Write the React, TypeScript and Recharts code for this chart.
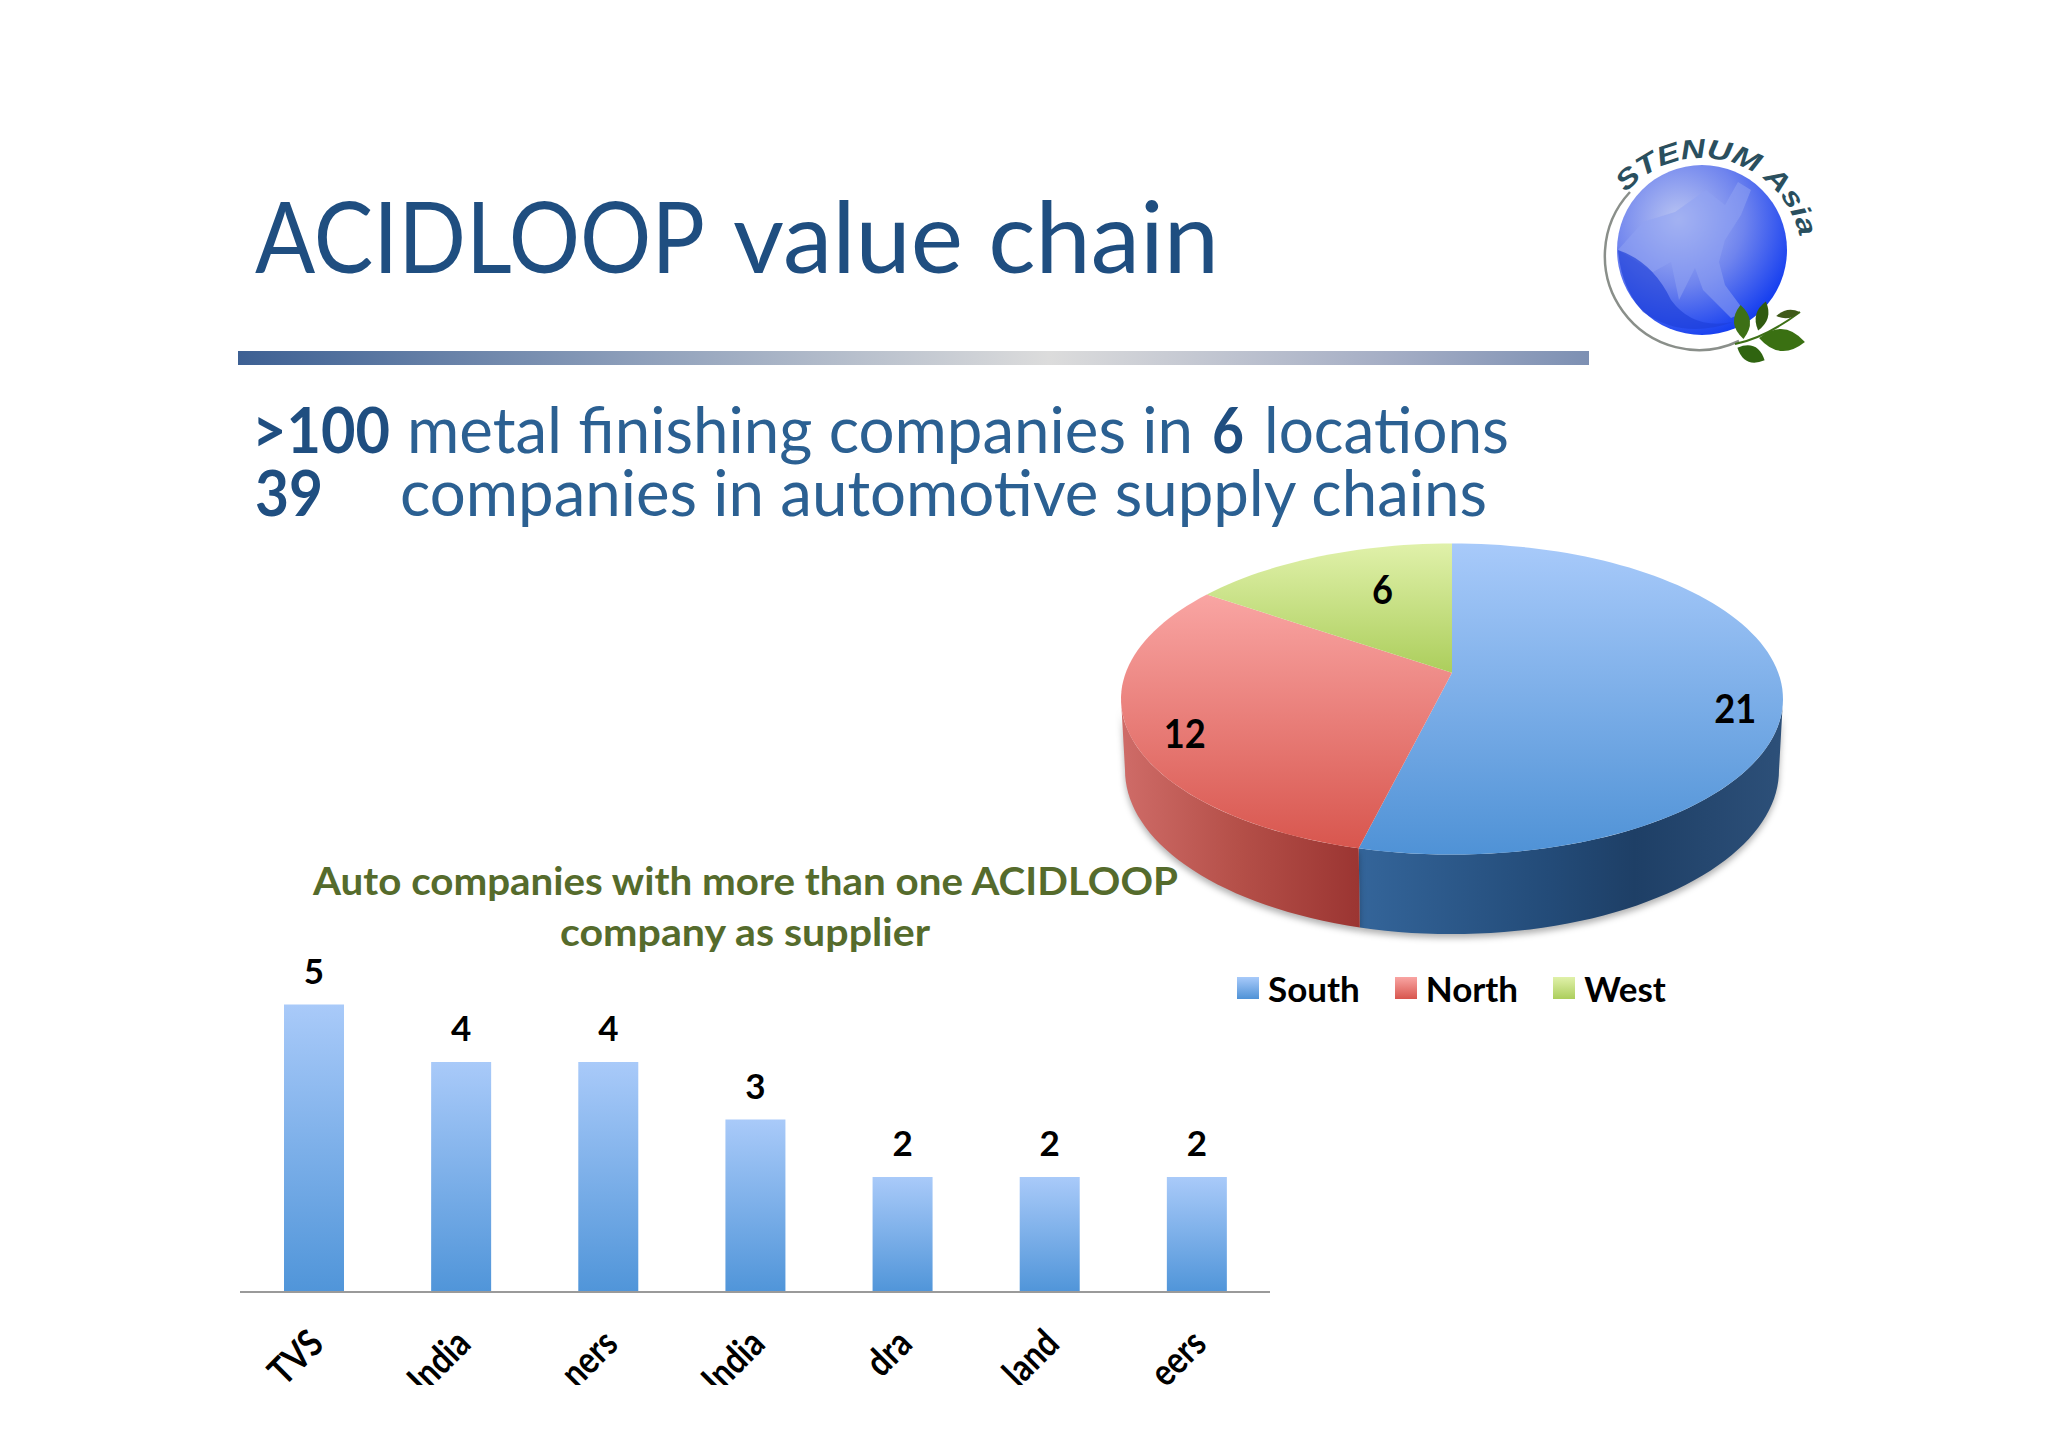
import { BarChart, Bar, XAxis, YAxis, LabelList, PieChart, Pie, Legend } from "recharts";

const barNames = ["TVS", "India", "ners", "India ", "dra", "land", "eers"];
const barValues = [5, 4, 4, 3, 2, 2, 2];
const regionNames = ["South", "North", "West"];
const regionValues = [21, 12, 6];

const regionFills = ["url(#topSouth)", "url(#topNorth)", "url(#topWest)"];
const wallFills = ["url(#wallSouth)", "url(#wallNorth)", "none"];
// small per-slice nudges for the pie numbers
const labelNudge = [
  { dx: 3, dy: 19 },
  { dx: 6, dy: 12 },
  { dx: 45, dy: 17 },
];

const barData = barNames.map((name, i) => ({ name, value: barValues[i] }));
const pieData = regionNames.map((name, i) => ({
  name,
  value: regionValues[i],
  fill: regionFills[i],
  wall: wallFills[i],
}));

const FONT = "Lato, Carlito, sans-serif";
const RAD = Math.PI / 180;
const SQUASH = 0.47;
const TILT = 0.168; // perspective: pie centre sits above the ellipse centre
const DEPTH = 71;

// angle on the pie -> point on the tilted disc
function project(deg: number, r: number, cx: number, cy: number, rx: number, ry: number) {
  const u = Math.cos(deg * RAD) * r;
  const v = Math.sin(deg * RAD) * r;
  const w = 1 + TILT * v;
  return {
    x: cx + (rx * Math.sqrt(1 - TILT * TILT) * u) / w,
    y: cy - (ry * (v + TILT)) / w,
  };
}

function arcPoints(a: number, b: number, cx: number, cy: number, rx: number, ry: number) {
  const n = Math.max(2, Math.ceil(Math.abs(a - b) / 2));
  const pts = [];
  for (let i = 0; i <= n; i++) {
    const p = project(a + ((b - a) * i) / n, 1, cx, cy, rx, ry);
    pts.push(`${p.x.toFixed(1)} ${p.y.toFixed(1)}`);
  }
  return pts;
}

function Slice(props: any) {
  const { cx, cy, outerRadius, startAngle, endAngle, fill, payload } = props;
  const rx = outerRadius;
  const ry = outerRadius * SQUASH;
  const apex = project(0, 0, cx, cy, rx, ry);
  const top = arcPoints(startAngle, endAngle, cx, cy, rx, ry);
  const edge = (Math.asin(TILT) * 180) / Math.PI;
  const from = Math.min(startAngle, -edge);
  const to = Math.max(endAngle, -180 + edge);
  let wall = null;
  if (from > to) {
    const upper = arcPoints(from, to, cx, cy, rx, ry);
    const lower = arcPoints(to, from, cx, cy + DEPTH, rx * 0.988, ry * 1.055);
    wall = (
      <path
        d={`M${upper.join("L")}L${lower.join("L")}Z`}
        fill={payload?.wall ?? props.wall}
        style={{ filter: "drop-shadow(0 4px 3px rgba(0,0,0,0.3))" }}
      />
    );
  }
  return (
    <g>
      {wall}
      <path d={`M${apex.x} ${apex.y}L${top.join("L")}Z`} fill={fill} />
    </g>
  );
}

function pieLabel(props: any) {
  const { cx, cy, midAngle, outerRadius, value, index } = props;
  const p = project(midAngle, 0.85, cx, cy, outerRadius, outerRadius * SQUASH);
  return (
    <text
      x={p.x + labelNudge[index].dx}
      y={p.y + labelNudge[index].dy}
      textAnchor="middle"
      dominantBaseline="central"
      fontFamily={FONT}
      fontWeight={700}
      fontSize={40}
      fill="#000"
      textLength={String(value).length * 21}
      lengthAdjust="spacingAndGlyphs"
    >
      {value}
    </text>
  );
}

function PieLegend({ payload }: any) {
  return (
    <div style={{ display: "flex", gap: 35, fontFamily: FONT, fontWeight: 700, fontSize: 35, color: "#000" }}>
      {(payload ?? []).map((entry: any) => (
        <div key={entry.value} style={{ display: "flex", alignItems: "center", gap: 9 }}>
          <svg width={22} height={22} style={{ display: "block" }}>
            <rect width={22} height={22} fill={entry.payload?.fill ?? entry.color} />
          </svg>
          <span style={{ lineHeight: "30px" }}>{entry.value}</span>
        </div>
      ))}
    </div>
  );
}

function RotatedTick({ x, y, payload }: any) {
  return (
    <text
      transform={`translate(${x + 12},${y + 46}) rotate(-45) scale(0.94,1.12)`}
      textAnchor="end"
      fontFamily={FONT}
      fontWeight={700}
      fontSize={34}
      fill="#000"
    >
      {payload.value.trim()}
    </text>
  );
}

function Gradient({ id, stops, horizontal }: { id: string; stops: [number, string][]; horizontal?: boolean }) {
  return (
    <linearGradient id={id} x1="0" y1="0" x2={horizontal ? "1" : "0"} y2={horizontal ? "0" : "1"}>
      {stops.map(([o, c]) => (
        <stop key={o} offset={o} stopColor={c} />
      ))}
    </linearGradient>
  );
}

function Leaf({ x, y, len, wide, rot, color }: { x: number; y: number; len: number; wide: number; rot: number; color: string }) {
  return (
    <path
      d={`M${-len} 0Q0 ${-wide * 2} ${len} 0Q0 ${wide * 2} ${-len} 0Z`}
      fill={color}
      transform={`translate(${x},${y}) rotate(${rot})`}
    />
  );
}

function Logo() {
  return (
    <g>
      <path d="M1630 192 A94 94 0 0 0 1739 341" fill="none" stroke="#8a8f8a" strokeWidth={2.5} />
      <circle cx={1702} cy={250} r={85} fill="url(#globe)" />
      <path
        d="M1706 190 L1725 205 L1738 182 L1751 190 L1741 215 L1725 240 L1719 262 L1725 285 L1745 312 L1731 318 L1703 290 L1695 268 L1679 300 L1671 262 L1653 272 L1618 250 L1643 222 L1675 212 Z"
        fill="#8fa3f2"
        opacity={0.55}
      />
      <path d="M1618 250 Q1653 262 1671 300 Q1693 330 1733 322 Q1683 340 1643 312 Q1621 287 1618 250 Z" fill="#1d3fd8" opacity={0.65} />
      <path id="logoArc" d="M1626 193 A100 100 0 0 1 1801 245" fill="none" />
      <text fontFamily="'Liberation Sans', sans-serif" fontWeight={700} fontStyle="italic" fontSize={27} fill="#2a4f5e">
        <textPath href="#logoArc" textLength={222} lengthAdjust="spacingAndGlyphs">
          STENUM Asia
        </textPath>
      </text>
      <path d="M1735 344 Q1765 338 1800 312" fill="none" stroke="#3d7016" strokeWidth={2} />
      <Leaf x={1742} y={322} len={17} wide={8} rot={85} color="#3d7016" />
      <Leaf x={1762} y={316} len={15} wide={6} rot={105} color="#2f5a10" />
      <Leaf x={1788} y={314} len={12} wide={4} rot={-10} color="#3f5a18" />
      <Leaf x={1782} y={340} len={23} wide={11} rot={5} color="#3a7012" />
      <Leaf x={1751} y={354} len={15} wide={8} rot={25} color="#2f6410" />
    </g>
  );
}

function SlideText() {
  const blue = "#1f4e80";
  const light = "#2b6092";
  return (
    <svg width={2048} height={1447} style={{ position: "absolute", left: 0, top: 0 }}>
      <defs>
        <Gradient id="barFill" stops={[[0, "#a9caf9"], [1, "#5095d9"]]} />
        <Gradient id="topSouth" stops={[[0, "#a8cafa"], [1, "#4f92d6"]]} />
        <Gradient id="topNorth" stops={[[0, "#f9a5a3"], [1, "#d8564e"]]} />
        <Gradient id="topWest" stops={[[0, "#e0f1aa"], [1, "#acce5c"]]} />
        <Gradient id="wallSouth" horizontal stops={[[0, "#34659a"], [0.45, "#234b78"], [0.65, "#1e3f66"], [1, "#2d5079"]]} />
        <Gradient id="wallNorth" horizontal stops={[[0, "#cf6c68"], [0.5, "#b44f48"], [1, "#9b3532"]]} />
        <Gradient
          id="rule"
          horizontal
          stops={[[0, "#3d6093"], [0.3, "#8fa0bb"], [0.6, "#dcdcdc"], [0.85, "#a5aec5"], [1, "#7d90b3"]]}
        />
        <radialGradient id="globe" cx="0.36" cy="0.32" r="0.78">
          <stop offset={0} stopColor="#b9c4f2" />
          <stop offset={0.5} stopColor="#6f84ee" />
          <stop offset={1} stopColor="#0431f0" />
        </radialGradient>
      </defs>
      <g fontFamily={FONT} fontSize={98} fill={blue}>
        <text x={255} y={273} textLength={450} lengthAdjust="spacingAndGlyphs">ACIDLOOP</text>
        <text x={733} y={273} textLength={486} lengthAdjust="spacingAndGlyphs">value chain</text>
      </g>
      <rect x={238} y={351} width={1351} height={14} fill="url(#rule)" />
      <g fontFamily={FONT} fontSize={63} fill={light}>
        <text x={252} y={453} fontWeight={700} fill={blue} textLength={138} lengthAdjust="spacingAndGlyphs">&gt;100</text>
        <text x={407} y={453} textLength={786} lengthAdjust="spacingAndGlyphs">metal finishing companies in</text>
        <text x={1212} y={453} fontWeight={700} fill={blue} textLength={32} lengthAdjust="spacingAndGlyphs">6</text>
        <text x={1264} y={453} textLength={245} lengthAdjust="spacingAndGlyphs">locations</text>
        <text x={255} y={516} fontWeight={700} fill={blue} textLength={68} lengthAdjust="spacingAndGlyphs">39</text>
        <text x={400} y={516} textLength={1087} lengthAdjust="spacingAndGlyphs">companies in automotive supply chains</text>
      </g>
      <g fontFamily={FONT} fontSize={39} fontWeight={700} fill="#556b2c">
        <text x={313} y={895} textLength={865} lengthAdjust="spacingAndGlyphs">Auto companies with more than one ACIDLOOP</text>
        <text x={560} y={946} textLength={370} lengthAdjust="spacingAndGlyphs">company as supplier</text>
      </g>
      <Logo />
    </svg>
  );
}

export default function App() {
  return (
    <div style={{ position: "absolute", left: 0, top: 0, width: 2048, height: 1447, background: "#fff", overflow: "hidden" }}>
      <SlideText />
      <div style={{ position: "absolute", left: 199, top: 942 }}>
        <BarChart
          width={1101}
          height={443}
          data={barData}
          margin={{ left: 41, right: 30, top: 62.5, bottom: 0 }}
          barSize={60}
        >
          <XAxis
            dataKey="name"
            height={93}
            interval={0}
            axisLine={{ stroke: "#9a9a9a", strokeWidth: 2 }}
            tickLine={false}
            tick={<RotatedTick />}
          />
          <YAxis hide domain={[0, 5]} />
          <Bar dataKey="value" fill="url(#barFill)" isAnimationActive={false}>
            <LabelList
              dataKey="value"
              position="top"
              offset={21}
              fontFamily={FONT}
              fontWeight={700}
              fontSize={35}
              fill="#000"
            />
          </Bar>
        </BarChart>
      </div>
      <div style={{ position: "absolute", left: 1100, top: 520 }}>
        <PieChart width={720} height={500} margin={{ left: 0, right: 0, top: 0, bottom: 0 }}>
          <Pie
            data={pieData}
            dataKey="value"
            nameKey="name"
            cx={352}
            cy={179}
            innerRadius={0}
            outerRadius={331}
            startAngle={90}
            endAngle={-270}
            stroke="none"
            shape={<Slice />}
            label={pieLabel}
            labelLine={false}
            isAnimationActive={false}
          />
          <Legend
            itemSorter={null}
            content={<PieLegend />}
            wrapperStyle={{ left: 137, top: 453, width: 480, bottom: "auto" }}
          />
        </PieChart>
      </div>
    </div>
  );
}
